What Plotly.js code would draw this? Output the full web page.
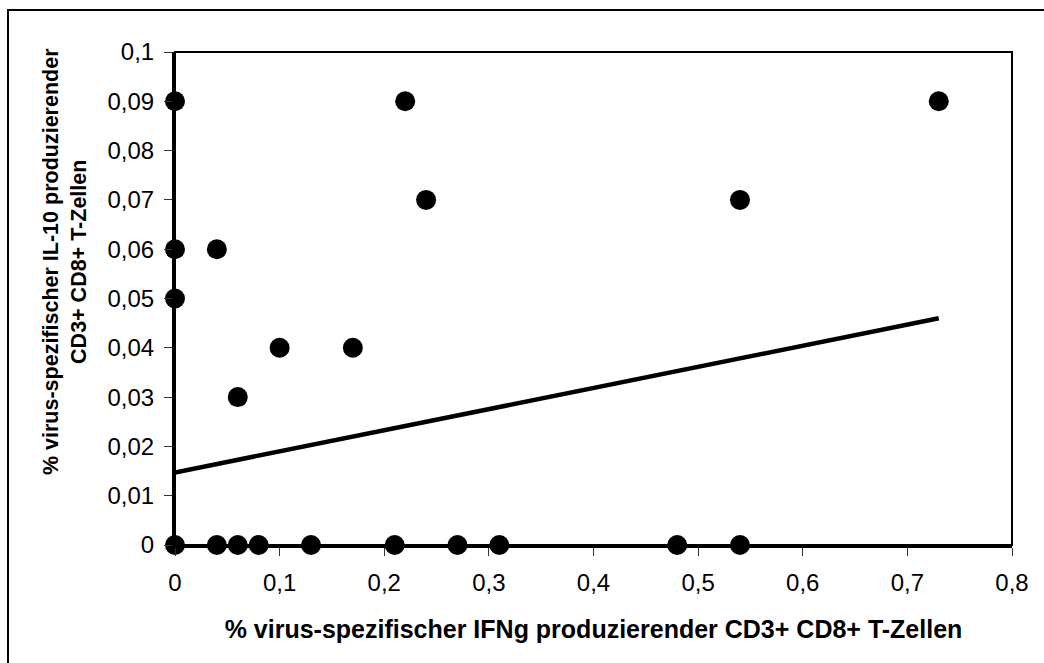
<!DOCTYPE html>
<html>
<head>
<meta charset="utf-8">
<script src="https://cdn.plot.ly/plotly-3.0.1.min.js"></script>
<style>
html,body{margin:0;padding:0;background:#fff;overflow:hidden;}
#wrap{position:relative;width:1044px;height:663px;}
#chart{position:absolute;left:0;top:0;width:1044px;height:663px;}
#frame{position:absolute;left:7px;top:9px;width:1100px;height:700px;border-top:2px solid #000;border-left:2px solid #000;pointer-events:none;}
</style>
</head>
<body>
<div id="wrap">
<div id="chart"></div>
<div id="frame"></div>
</div>
<script>
// IFNg-producing (x) vs IL-10-producing (y) CD3+ CD8+ T cells, %
var xVals = [0, 0, 0, 0, 0.04, 0.06, 0.10, 0.17, 0.22, 0.24, 0.54, 0.73,
             0.04, 0.06, 0.08, 0.13, 0.21, 0.27, 0.31, 0.48, 0.54];
var yVals = [0.09, 0.06, 0.05, 0, 0.06, 0.03, 0.04, 0.04, 0.09, 0.07, 0.07, 0.09,
             0, 0, 0, 0, 0, 0, 0, 0, 0];
// linear trend line
var trendX = [0, 0.73];
var trendY = [0.0147, 0.046];

var xTitle = "% virus-spezifischer IFNg produzierender CD3+ CD8+ T-Zellen";
var yTitle = "% virus-spezifischer IL-10 produzierender<br>CD3+ CD8+ T-Zellen";

var FONT = "Liberation Sans, Arial, sans-serif";

var traces = [
  {
    x: trendX, y: trendY, type: "scatter", mode: "lines",
    line: {color: "#000", width: 4.5}, hoverinfo: "skip", showlegend: false
  },
  {
    x: xVals, y: yVals, type: "scatter", mode: "markers",
    marker: {color: "#000", size: 20, line: {width: 0}},
    cliponaxis: false, showlegend: false
  }
];

var layout = {
  width: 1044, height: 663,
  margin: {l: 175, r: 32, t: 52, b: 118},
  paper_bgcolor: "rgba(0,0,0,0)", plot_bgcolor: "#fff",
  separators: ",.",
  showlegend: false,
  font: {family: FONT, color: "#000", size: 22},
  xaxis: {
    range: [0, 0.8], dtick: 0.1, tick0: 0,
    showgrid: false, zeroline: false,
    showline: true, linecolor: "#000", linewidth: 3,
    ticks: "outside", ticklen: 8, tickwidth: 1, tickcolor: "#333",
    ticklabelstandoff: 6,
    tickfont: {family: FONT, size: 24, color: "#000"},
    title: {text: xTitle, font: {family: FONT, size: 25, color: "#000", weight: "bold"}, standoff: 26}
  },
  yaxis: {
    range: [0, 0.1], dtick: 0.01, tick0: 0,
    showgrid: false, zeroline: false,
    showline: true, linecolor: "#000", linewidth: 3,
    ticks: "outside", ticklen: 8, tickwidth: 1, tickcolor: "#333",
    ticklabelstandoff: 5,
    tickfont: {family: FONT, size: 24, color: "#000"}
  },
  shapes: [
    {type: "rect", xref: "paper", yref: "paper", x0: 0, x1: 1, y0: 0, y1: 1,
     line: {color: "#000", width: 2}, fillcolor: "rgba(0,0,0,0)", layer: "below"}
  ],
  annotations: [
    {text: yTitle, xref: "paper", yref: "paper", x: -0.1314, y: 0.574,
     xanchor: "center", yanchor: "middle", textangle: -90, showarrow: false,
     font: {family: FONT, size: 21.5, color: "#000", weight: "bold"}}
  ]
};

Plotly.newPlot("chart", traces, layout, {displayModeBar: false, staticPlot: true});
</script>
</body>
</html>
